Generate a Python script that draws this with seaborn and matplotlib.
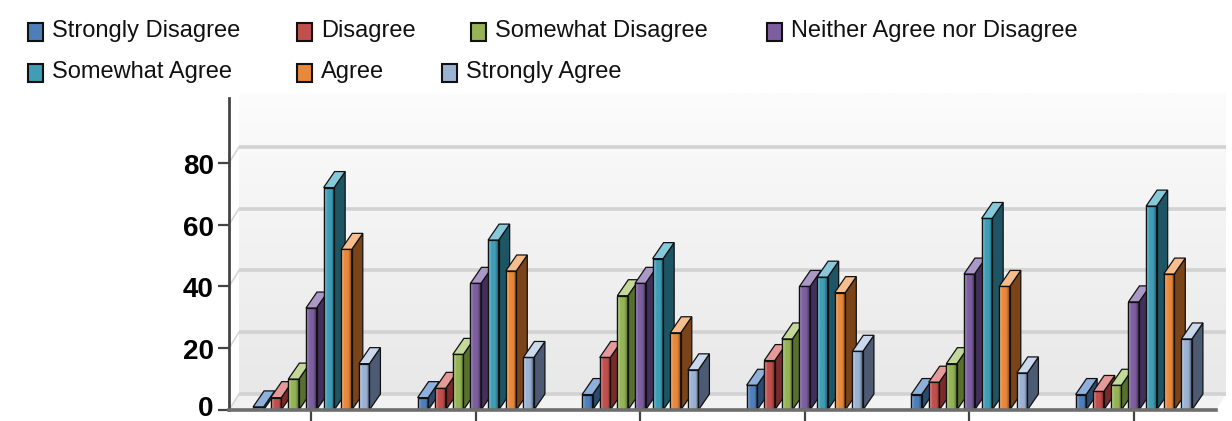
import numpy as np
import pandas as pd
import matplotlib
matplotlib.use("Agg")
import matplotlib.pyplot as plt
import seaborn as sns
from matplotlib.patches import Polygon, Rectangle
from matplotlib.transforms import ScaledTranslation
from matplotlib import font_manager

# ---------------- data ----------------
series = ["Strongly Disagree", "Disagree", "Somewhat Disagree",
          "Neither Agree nor Disagree", "Somewhat Agree", "Agree", "Strongly Agree"]
groups = ["1", "2", "3", "4", "5", "6"]
strongly_disagree = [1, 4, 5, 8, 5, 5]
disagree = [4, 7, 17, 16, 9, 6]
somewhat_disagree = [10, 18, 37, 23, 15, 8]
neither = [33, 41, 41, 40, 44, 35]
somewhat_agree = [72, 55, 49, 43, 62, 66]
agree = [52, 45, 25, 38, 40, 44]
strongly_agree = [15, 17, 13, 19, 12, 23]
y_ticks = [0, 20, 40, 60, 80]

values = [strongly_disagree, disagree, somewhat_disagree, neither,
          somewhat_agree, agree, strongly_agree]

# ---------------- style ----------------
front_colors = ["#4f7fbb", "#c0504d", "#94b456", "#7d5f9f", "#3f9db5", "#e8883c", "#9cb2d3"]
light_colors = ["#8fb0da", "#e49a98", "#c3d99a", "#ab98c6", "#86c9da", "#f8bd8c", "#cbd9ee"]
side_colors = ["#2b4a70", "#7a2b29", "#58702d", "#43305a", "#1d5565", "#7a4418", "#4c5a74"]

names = {f.name for f in font_manager.fontManager.ttflist}
narrow = "Liberation Sans Narrow" if "Liberation Sans Narrow" in names else None

df = pd.DataFrame({
    "group": groups * len(series),
    "series": [s for s in series for _ in groups],
    "value": [v for vals in values for v in vals],
})

W, H = 1232, 421
fig = plt.figure(figsize=(W / 100, H / 100), dpi=100)
ax_left, ax_right, ax_bottom, ax_top = 229, 1216, 11, 98
ax = fig.add_axes([ax_left / W, ax_bottom / H, (ax_right - ax_left) / W, (H - ax_bottom - ax_top) / H])

sns.barplot(data=df, x="group", y="value", hue="series", hue_order=series,
            order=groups, palette=front_colors, saturation=1, width=0.75, gap=0.4,
            dodge=True, legend=False, ax=ax, edgecolor="#111111", linewidth=0.9,
            errorbar=None)
ax.set_xlim(-0.5, len(groups) - 0.5)
ax.set_ylim(0, 101)

# pixel -> data conversion
p0 = ax.transData.transform((0, 0))
p1 = ax.transData.transform((1, 1))
pxx = p1[0] - p0[0]
pxy = p1[1] - p0[1]

# back wall, floor and gridlines
wdx, wdy = 10 / pxx, 16 / pxy
x0, x1 = ax.get_xlim()
y1 = ax.get_ylim()[1]
grad = np.linspace(1, 0, 256).reshape(-1, 1)
ax.imshow(grad, cmap=matplotlib.colors.LinearSegmentedColormap.from_list("w", ["#e8e8e8", "#fcfcfc"]),
          extent=[x0 + wdx, x1 + wdx, wdy, y1 + wdy * 0.3], aspect="auto", zorder=0, clip_on=False)
floor = Polygon([[x0, 0], [x1, 0], [x1 + wdx, wdy], [x0 + wdx, wdy]], closed=True,
                facecolor="#f2f2f2", edgecolor="none", zorder=0.5, clip_on=False)
ax.add_patch(floor)
for t in y_ticks:
    ax.plot([x0 + wdx, x1 + wdx], [t + wdy, t + wdy], color="#d2d2d2", lw=2.6,
            zorder=0.6, clip_on=False, solid_capstyle="butt")
    ax.plot([x0, x0 + wdx], [t, t + wdy], color="#d6d6d6", lw=1.2, zorder=0.6, clip_on=False)

# 3D faces for bars
bdx, bdy = 11 / pxx, 16 / pxy
bars = list(ax.patches)[: len(series) * len(groups)]
for i, b in enumerate(bars):
    h = i // len(groups)
    z = 3 + h * 0.01
    b.set_zorder(z)
    bx, by = b.get_x(), b.get_y()
    bw, bh = b.get_width(), b.get_height()
    grad_img = np.linspace(0, 1, 64).reshape(1, -1)
    cmap = matplotlib.colors.LinearSegmentedColormap.from_list(
        "g%d" % h, [light_colors[h], front_colors[h], front_colors[h], side_colors[h]])
    im = ax.imshow(grad_img, cmap=cmap, extent=[bx, bx + bw, by, by + bh], aspect="auto",
                   zorder=z, interpolation="bilinear")
    im.set_clip_path(b)
    side = Polygon([[bx + bw, by], [bx + bw + bdx, by + bdy], [bx + bw + bdx, by + bh + bdy],
                    [bx + bw, by + bh]], closed=True, facecolor=side_colors[h],
                   edgecolor="#111111", lw=0.9, zorder=z)
    top = Polygon([[bx, by + bh], [bx + bw, by + bh], [bx + bw + bdx, by + bh + bdy],
                   [bx + bdx, by + bh + bdy]], closed=True, facecolor=light_colors[h],
                  edgecolor="#111111", lw=0.9, zorder=z)
    ax.add_patch(side)
    ax.add_patch(top)
    edge = Rectangle((bx, by), bw, bh, facecolor="none", edgecolor="#111111", lw=0.9, zorder=z)
    ax.add_patch(edge)

ax.set_xlim(x0, x1)
ax.set_ylim(0, y1)

# axes styling
for s in ["top", "right"]:
    ax.spines[s].set_visible(False)
ax.spines["left"].set_color("#444444")
ax.spines["left"].set_linewidth(2.0)
ax.spines["bottom"].set_color("#6e6e6e")
ax.spines["bottom"].set_linewidth(2.6)
ax.spines["left"].set_zorder(10)
ax.spines["bottom"].set_zorder(10)
ax.set_yticks(y_ticks)
ax.set_xticks(range(len(groups)))
ax.set_xticklabels([])
ax.set_xlabel("")
ax.set_ylabel("")
ax.patch.set_alpha(0)
tick_font = dict(family=narrow or "Liberation Sans", weight="bold", size=24 if narrow else 20)
ax.set_yticklabels([str(t) for t in y_ticks], fontdict=tick_font)
ax.tick_params(axis="y", length=8, width=1.6, color="#444444", pad=3)
ax.tick_params(axis="x", length=8, width=1.6, color="#444444")
for lab in ax.get_yticklabels():
    lab.set_verticalalignment("center_baseline")
    shift = 4 if lab.get_text() == "0" else -1
    lab.set_transform(lab.get_transform() + ScaledTranslation(0, shift / 100, fig.dpi_scale_trans))

# legend (flow layout as in the reference)
leg_x = [28, 297, 471, 767, 28, 297, 442]
leg_y = [32, 32, 32, 32, 73, 73, 73]
leg_font = dict(family=narrow or "Liberation Sans", size=20 if narrow else 17)
for k, name in enumerate(series):
    mx, my = leg_x[k], leg_y[k]
    fig.patches.append(Rectangle((mx / W, (H - my - 9) / H), 15 / W, 18 / H,
                                 transform=fig.transFigure, facecolor=front_colors[k],
                                 edgecolor="#111111", lw=1.5))
    fig.text((mx + 24) / W, (H - my + 1) / H, name, ha="left", va="center",
             color="#111111", **leg_font)

fig.savefig("out.png", dpi=100)
